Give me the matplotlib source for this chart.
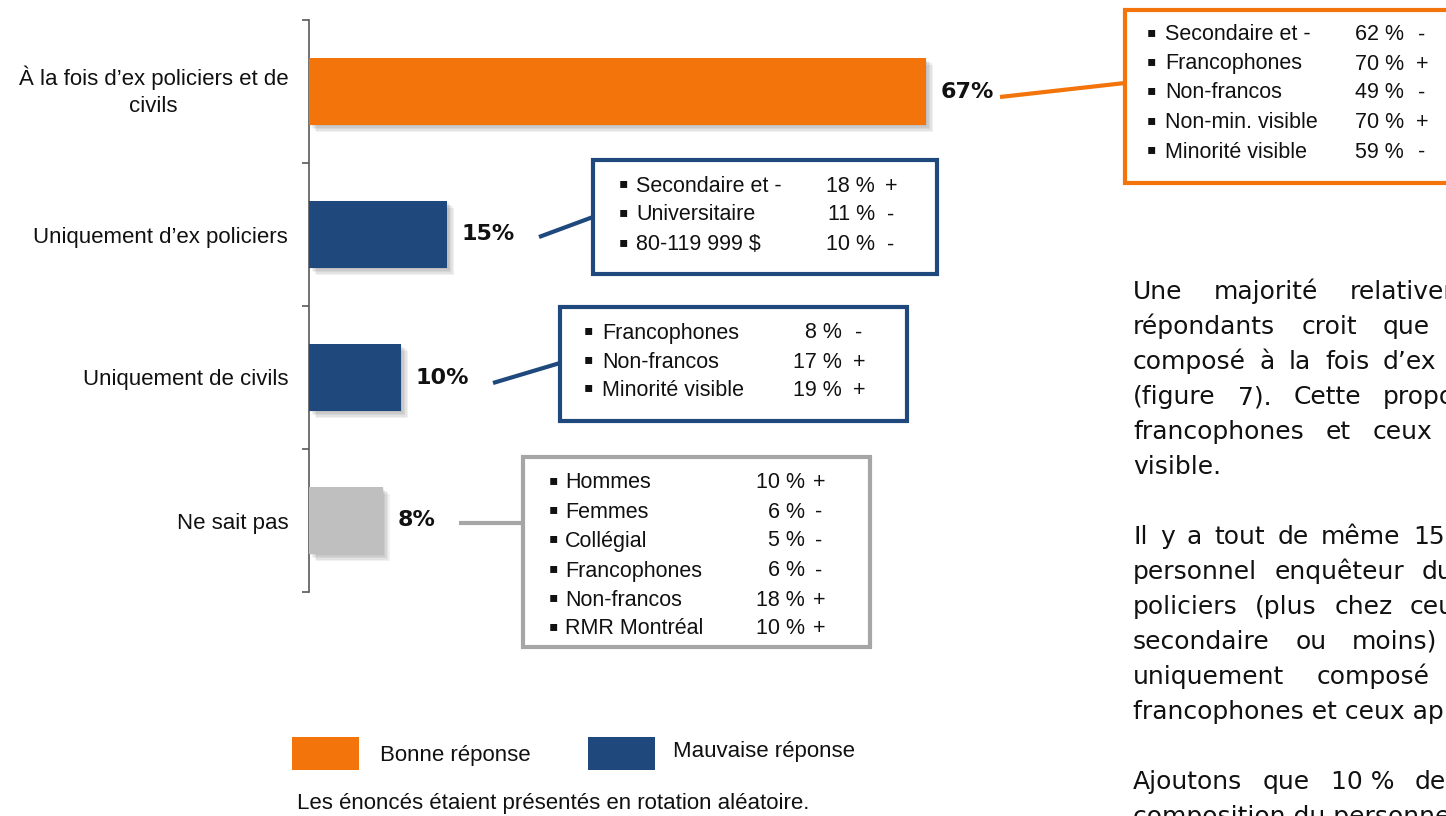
import matplotlib
matplotlib.use("Agg")
import matplotlib.pyplot as plt
from matplotlib.patches import Rectangle
from matplotlib.lines import Line2D
import matplotlib.patheffects as pe

# ---------------- data ----------------
categories = ["À la fois d’ex policiers et de\ncivils", "Uniquement d’ex policiers",
              "Uniquement de civils", "Ne sait pas"]
values = [67, 15, 10, 8]
answer_type = ["Bonne réponse", "Mauvaise réponse", "Mauvaise réponse", "Ne sait pas"]

box1_labels = ["Secondaire et -", "Francophones", "Non-francos", "Non-min. visible", "Minorité visible"]
box1_values = [62, 70, 49, 70, 59]
box1_signs = ["-", "+", "-", "+", "-"]

box2_labels = ["Secondaire et -", "Universitaire", "80-119 999 $"]
box2_values = [18, 11, 10]
box2_signs = ["+", "-", "-"]

box3_labels = ["Francophones", "Non-francos", "Minorité visible"]
box3_values = [8, 17, 19]
box3_signs = ["-", "+", "+"]

box4_labels = ["Hommes", "Femmes", "Collégial", "Francophones", "Non-francos", "RMR Montréal"]
box4_values = [10, 6, 5, 6, 18, 10]
box4_signs = ["+", "-", "-", "-", "+", "+"]

legend_labels = ["Bonne réponse", "Mauvaise réponse"]
footnote = "Les énoncés étaient présentés en rotation aléatoire."

para_lines = [
    ["Une", "majorité", "relativement"],
    ["répondants", "croit", "que"],
    ["composé", "à", "la", "fois", "d’ex"],
    ["(figure", "7).", "Cette", "proportion"],
    ["francophones", "et", "ceux"],
    ["visible."],
    [],
    ["Il", "y", "a", "tout", "de", "même", "15"],
    ["personnel", "enquêteur", "du"],
    ["policiers", "(plus", "chez", "ceux"],
    ["secondaire", "ou", "moins)"],
    ["uniquement", "composé"],
    ["francophones et ceux appartenant"],
    [],
    ["Ajoutons", "que", "10 %", "de"],
    ["composition du personnel"],
]

# ---------------- styling / layout ----------------
W, H, DPI = 1446, 816, 100
ORANGE = "#F3740B"
BLUE = "#1F497D"
GREY_BAR = "#BFBFBF"
GREY_BOX = "#A6A6A6"
TXT = "#111111"
FONT = "Liberation Sans"
color_map = {"Bonne réponse": ORANGE, "Mauvaise réponse": BLUE, "Ne sait pas": GREY_BAR}

fig = plt.figure(figsize=(W / DPI, H / DPI), dpi=DPI)
fig.patch.set_facecolor("white")


def fx(x):
    return x / W


def fy(y):
    return 1 - y / H


# axes: spine at x=309, from y=20 to y=592
px_per_pct = (926 - 309) / 67.0
ax_left, ax_right = 309, 1446
ax = fig.add_axes([fx(ax_left), fy(592), (ax_right - ax_left) / W, (592 - 20) / H])
ax.set_xlim(0, (ax_right - ax_left) / px_per_pct)
ax.set_ylim(len(categories) - 0.5, -0.5)
ax.patch.set_alpha(0)

shadow = [pe.SimplePatchShadow(offset=(k, -k), shadow_rgbFace="black", alpha=0.055)
          for k in (1.0, 2.0, 3.0, 4.0, 5.0)] + [pe.Normal()]
ypos = list(range(len(categories)))
bars = ax.barh(ypos, values, height=0.47, color=[color_map[t] for t in answer_type],
               edgecolor="none", zorder=3)
for b in bars:
    b.set_path_effects(shadow)

for y, v in zip(ypos, values):
    ax.annotate(f"{v}%", xy=(v, y), xytext=(10.5, 0), textcoords="offset points",
                ha="left", va="center", fontsize=16, fontweight="bold",
                family="DejaVu Sans", color=TXT)

for s in ["top", "right", "bottom"]:
    ax.spines[s].set_visible(False)
ax.spines["left"].set_color("#595959")
ax.spines["left"].set_linewidth(1.2)
ax.set_xticks([])
ax.set_yticks(ypos)
ax.set_yticklabels(categories, fontsize=16, family=FONT, color=TXT)
ax.set_yticks([i - 0.5 for i in range(len(categories) + 1)], minor=True)
ax.tick_params(axis="y", which="major", length=0, pad=15)
ax.tick_params(axis="y", which="minor", length=5, width=1.2, color="#595959")
for lbl in ax.get_yticklabels():
    lbl.set_multialignment("center")
    if "\n" in lbl.get_text():
        lbl.set_linespacing(1.35)
        lbl.set_verticalalignment("center")


# ---------------- annotation boxes ----------------
def draw_box(x0, y0, x1, y1, ec):
    fig.add_artist(Rectangle((fx(x0), fy(y1)), fx(x1) - fx(x0), fy(y0) - fy(y1),
                             transform=fig.transFigure, facecolor="white",
                             edgecolor=ec, linewidth=3.0, zorder=2))


def draw_line(p0, p1, color):
    fig.add_artist(Line2D([fx(p0[0]), fx(p1[0])], [fy(p0[1]), fy(p1[1])],
                          transform=fig.transFigure, color=color, linewidth=3.0,
                          solid_capstyle="butt", zorder=2))


def box_text(labels, vals, signs, ys, x_bullet, x_label, x_val_end, x_sign):
    for lab, v, sg, y in zip(labels, vals, signs, ys):
        fig.text(fx(x_bullet), fy(y - 2.5), "▪", family="DejaVu Sans", fontsize=10,
                 ha="center", va="center", color=TXT, zorder=5)
        fig.text(fx(x_label), fy(y), lab, family=FONT, fontsize=15.5,
                 ha="left", va="center", color=TXT, zorder=5)
        fig.text(fx(x_val_end), fy(y), f"{v} %", family=FONT, fontsize=15.5,
                 ha="right", va="center", color=TXT, zorder=5)
        fig.text(fx(x_sign), fy(y), sg, family=FONT, fontsize=15.5,
                 ha="center", va="center", color=TXT, zorder=5)


# box 1 (orange)
draw_line((1000, 97), (1125, 83), ORANGE)
draw_box(1125, 10, 1470, 183, ORANGE)
box_text(box1_labels, box1_values, box1_signs, [35, 64, 93, 123, 152],
         1151, 1165, 1404, 1422)

# box 2 (blue)
draw_line((539, 237), (593, 217), BLUE)
draw_box(593, 160, 937, 274, BLUE)
box_text(box2_labels, box2_values, box2_signs, [186, 215, 245],
         623, 636, 875, 891)

# box 3 (blue)
draw_line((493, 383), (560, 363), BLUE)
draw_box(560, 307, 907, 421, BLUE)
box_text(box3_labels, box3_values, box3_signs, [333, 362, 390],
         588, 602, 842, 859)

# box 4 (grey)
draw_line((459, 523), (523, 523), GREY_BOX)
draw_box(523, 457, 870, 647, GREY_BOX)
box_text(box4_labels, box4_values, box4_signs, [483, 512, 541, 571, 600, 629],
         553, 565, 805, 819)

# ---------------- legend ----------------
leg_colors = [ORANGE, BLUE]
leg_patch_x = [292, 588]
leg_text_x = [380, 673]
leg_text_y = [755, 752]
for c, px, tx, ty, lab in zip(leg_colors, leg_patch_x, leg_text_x, leg_text_y, legend_labels):
    fig.add_artist(Rectangle((fx(px), fy(770)), fx(67), 33 / H, transform=fig.transFigure,
                             facecolor=c, edgecolor="none"))
    fig.text(fx(tx), fy(ty), lab, family=FONT, fontsize=16, ha="left", va="center", color=TXT)

fig.text(fx(297), fy(803), footnote, family=FONT, fontsize=16, ha="left", va="center", color=TXT)

# ---------------- body text (justified, cut at right edge) ----------------
# x position of the last visible word on each justified line; gaps are made equal
last_word_x = [1350, 1383, 1383, 1383, 1373, None, None,
               1413, 1422, 1410, 1352, 1317, None, None, 1415, None]
LEFT = 1133
renderer = fig.canvas.get_renderer()
for k, (words, xlast) in enumerate(zip(para_lines, last_word_x)):
    base = 299 + 35 * k
    if not words:
        continue
    objs = [fig.text(fx(LEFT), fy(base), w, family="DejaVu Sans", fontsize=18,
                     ha="left", va="baseline", color=TXT) for w in words]
    if xlast is None or len(objs) == 1:
        continue
    widths = [o.get_window_extent(renderer).width for o in objs]
    gap = (xlast - LEFT - sum(widths[:-1])) / (len(objs) - 1)
    x = LEFT
    for o, wd in zip(objs, widths):
        o.set_x(fx(x))
        x += wd + gap

fig.savefig("out.png", dpi=DPI, facecolor="white")
